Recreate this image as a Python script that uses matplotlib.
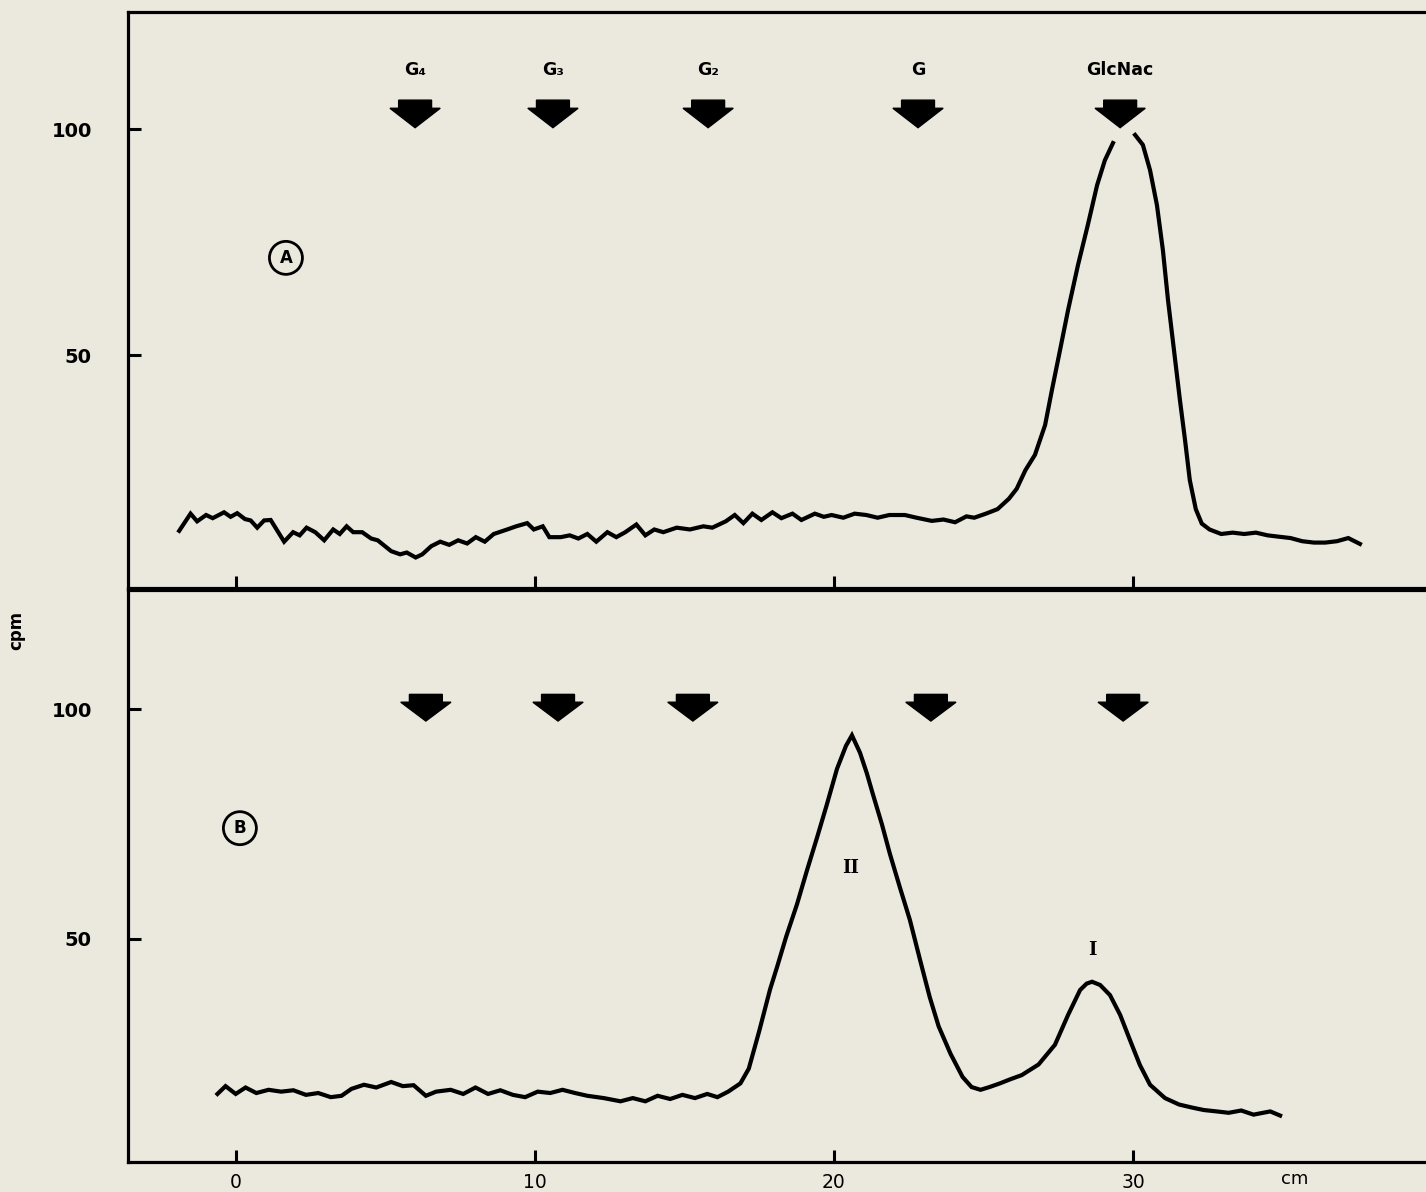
import numpy as np
import matplotlib
matplotlib.use("Agg")
import matplotlib.pyplot as plt
from matplotlib.patches import Polygon

# --- data -------------------------------------------------------------------
# panel A: trace (cm, cpm); NaN marks the break at the top of the peak
cm_a = [-1.90, -1.52, -1.30, -1.00, -0.78, -0.40, -0.18, 0.04, 0.30, 0.49,
        0.71, 0.94, 1.16, 1.61, 1.91, 2.13, 2.36, 2.65, 2.95, 3.25,
        3.47, 3.70, 3.92, 4.22, 4.52, 4.74, 5.19, 5.49, 5.71, 6.01,
        6.23, 6.53, 6.83, 7.13, 7.43, 7.73, 8.02, 8.32, 8.62, 9.07,
        9.37, 9.74, 9.96, 10.26, 10.48, 10.86, 11.16, 11.45, 11.75, 12.05,
        12.42, 12.72, 13.02, 13.39, 13.69, 13.99, 14.29, 14.74, 15.18, 15.63,
        15.93, 16.38, 16.68, 16.97, 17.27, 17.57, 17.94, 18.24, 18.61, 18.91,
        19.36, 19.66, 19.92, 20.31, 20.69, 21.08, 21.46, 21.85, 22.37, 22.76,
        23.27, 23.66, 24.05, 24.43, 24.69, 25.08, 25.47, 25.85, 26.11, 26.40,
        26.72, 27.06, 27.29, 27.56, 27.83, 28.16, 28.49, 28.80, 29.06, 29.33,
        29.70,
        30.07, 30.33, 30.57, 30.80, 31.00, 31.17, 31.37, 31.57, 31.74, 31.90,
        32.10, 32.30, 32.56, 32.95, 33.33, 33.72, 34.11, 34.50, 34.88, 35.27,
        35.66, 36.05, 36.43, 36.82, 37.20, 37.59]
cpm_a = [11.1, 14.9, 13.2, 14.6, 13.9, 15.2, 14.2, 15.0, 13.7, 13.4,
         11.8, 13.4, 13.5, 8.7, 10.8, 10.1, 11.8, 10.8, 9.0, 11.4,
         10.4, 12.1, 10.8, 10.8, 9.4, 9.0, 6.6, 5.9, 6.3, 5.2,
         5.9, 7.7, 8.7, 8.0, 9.0, 8.3, 9.7, 8.7, 10.4, 11.4,
         12.1, 12.8, 11.4, 12.1, 9.7, 9.7, 10.1, 9.4, 10.4, 8.7,
         10.8, 9.7, 10.8, 12.5, 10.1, 11.4, 10.8, 11.8, 11.4, 12.1,
         11.8, 13.2, 14.6, 12.8, 14.9, 13.5, 15.2, 13.9, 14.9, 13.5,
         14.9, 14.2, 14.6, 14.0, 14.9, 14.6, 14.0, 14.6, 14.6, 14.0,
         13.3, 13.6, 13.0, 14.3, 14.0, 14.9, 15.9, 18.2, 20.4, 24.5,
         27.9, 34.5, 42.3, 51.1, 60.0, 69.9, 78.8, 87.6, 93.1, 96.9,
         np.nan,
         98.7, 96.5, 90.9, 83.2, 73.2, 62.2, 51.1, 40.0, 31.2, 22.3,
         15.9, 12.7, 11.4, 10.4, 10.7, 10.4, 10.7, 10.1, 9.8, 9.5,
         8.8, 8.5, 8.5, 8.8, 9.5, 8.2]

# panel B trace
cm_b = [-0.62, -0.35, -0.01, 0.32, 0.68, 1.09, 1.51, 1.92, 2.34, 2.75,
        3.17, 3.53, 3.86, 4.28, 4.69, 5.19, 5.58, 5.94, 6.35, 6.69,
        7.18, 7.60, 8.01, 8.43, 8.84, 9.26, 9.67, 10.09, 10.51, 10.92,
        11.34, 11.75, 12.30, 12.86, 13.27, 13.69, 14.10, 14.52, 14.93, 15.35,
        15.76, 16.10, 16.46, 16.87, 17.15, 17.50, 17.86, 18.10, 18.40, 18.76,
        19.10, 19.43, 19.75, 20.10, 20.40, 20.60, 20.87, 21.10, 21.30, 21.60,
        21.87, 22.20, 22.54, 22.88, 23.20, 23.50, 23.90, 24.30, 24.60, 24.90,
        25.20, 25.55, 25.90, 26.28, 26.84, 27.39, 27.83, 28.23, 28.45, 28.63,
        28.90, 29.23, 29.57, 29.90, 30.23, 30.57, 31.07, 31.54, 32.00, 32.37,
        32.80, 33.20, 33.62, 34.03, 34.59, 34.92]
cpm_b = [16.3, 18.0, 16.3, 17.7, 16.5, 17.2, 16.8, 17.1, 16.1, 16.5,
         15.6, 15.9, 17.4, 18.3, 17.7, 18.9, 18.0, 18.2, 15.9, 16.8,
         17.2, 16.3, 17.7, 16.3, 17.1, 16.1, 15.6, 16.8, 16.5, 17.2,
         16.5, 15.9, 15.4, 14.7, 15.4, 14.7, 15.9, 15.2, 16.1, 15.4,
         16.3, 15.6, 16.8, 18.6, 21.8, 30.0, 39.0, 44.0, 50.5, 57.5,
         65.0, 72.0, 79.0, 87.0, 92.0, 94.3, 90.5, 86.0, 81.5, 75.0,
         68.5, 61.3, 54.1, 45.4, 37.4, 31.0, 25.0, 20.0, 17.8, 17.2,
         17.8, 18.6, 19.5, 20.4, 22.7, 27.0, 33.5, 38.9, 40.3, 40.7,
         40.0, 37.8, 33.5, 28.0, 22.6, 18.3, 15.4, 14.0, 13.3, 12.8,
         12.5, 12.2, 12.7, 11.8, 12.5, 11.6]

# standards (marker positions, cm)
std_names = ["G\u2084", "G\u2083", "G\u2082", "G", "GlcNac"]
std_pos_a = [5.99, 10.60, 15.79, 22.81, 29.57]
std_pos_b = [6.35, 10.77, 15.28, 23.24, 29.67]

peak_names = ["II", "I"]
peak_pos = [20.57, 28.63]
peak_lab_y = [65.4, 47.6]

xticks = [0, 10, 20, 30]
yticks = [50, 100]

# --- style --------------------------------------------------------------------
bg = "#ebe8de"
W, H = 1426, 1192
fig = plt.figure(figsize=(W / 100, H / 100), dpi=100, facecolor=bg)

left = 128 / W
width = (1445 - 128) / W
ax1 = fig.add_axes([left, 1 - 588 / H, width, (588 - 12) / H])
ax2 = fig.add_axes([left, 1 - 1162 / H, width, (1162 - 590) / H])

xmin, xmax = (128 - 236) / 29.9, (1445 - 236) / 29.9
ax1.set_ylim(-1.55, 125.9)
ax2.set_ylim(1.5, 125.9)

for ax in (ax1, ax2):
    ax.set_facecolor(bg)
    ax.set_xlim(xmin, xmax)
    for s in ax.spines.values():
        s.set_linewidth(2.3)
    ax.set_xticks(xticks)
    ax.set_yticks(yticks)
    ax.tick_params(direction="in", length=9, width=2.2, pad=26,
                   labelsize=14)
    ax.tick_params(axis="x", pad=8)
    for lab in ax.get_yticklabels():
        lab.set_fontweight("bold")

ax1.set_xticklabels([])
ax2.set_xticklabels([str(t) for t in xticks], fontsize=13.5)

ax1.plot(cm_a, cpm_a, color="black", lw=3.0, solid_joinstyle="miter")
ax2.plot(cm_b, cpm_b, color="black", lw=3.0, solid_joinstyle="miter")


def block_arrow(ax, x, top, mid, tip):
    shaft, head = 0.55, 0.84
    pts = [(x - shaft, top), (x + shaft, top), (x + shaft, mid),
           (x + head, mid), (x, tip), (x - head, mid), (x - shaft, mid)]
    ax.add_patch(Polygon(pts, closed=True, fc="black", ec="black", lw=1))


for name, x in zip(std_names, std_pos_a):
    block_arrow(ax1, x, 106.4, 104.6, 100.3)
    ax1.text(x, 113.0, name, ha="center", va="center", fontsize=12.5,
             fontweight="bold")
for x in std_pos_b:
    block_arrow(ax2, x, 103.2, 101.5, 97.4)

circ = dict(boxstyle="circle,pad=0.45", fc="none", ec="black", lw=2.0)
ax1.text(1.67, 71.5, "A", ha="center", va="center", fontsize=12,
         fontweight="bold", bbox=circ)
ax2.text(0.13, 74.1, "B", ha="center", va="center", fontsize=12,
         fontweight="bold", bbox=circ)

for name, x, y in zip(peak_names, peak_pos, peak_lab_y):
    ax2.text(x, y, name, ha="center", va="center", fontsize=13,
             fontweight="bold", family="DejaVu Serif")

ax2.text(35.4, -2.2, "cm", ha="center", va="center", fontsize=13,
         clip_on=False)
fig.text(16 / W, 1 - 630 / H, "cpm", rotation=90, ha="center", va="center",
         fontsize=12, fontweight="bold")

fig.savefig("out.png", dpi=100, facecolor=bg)
